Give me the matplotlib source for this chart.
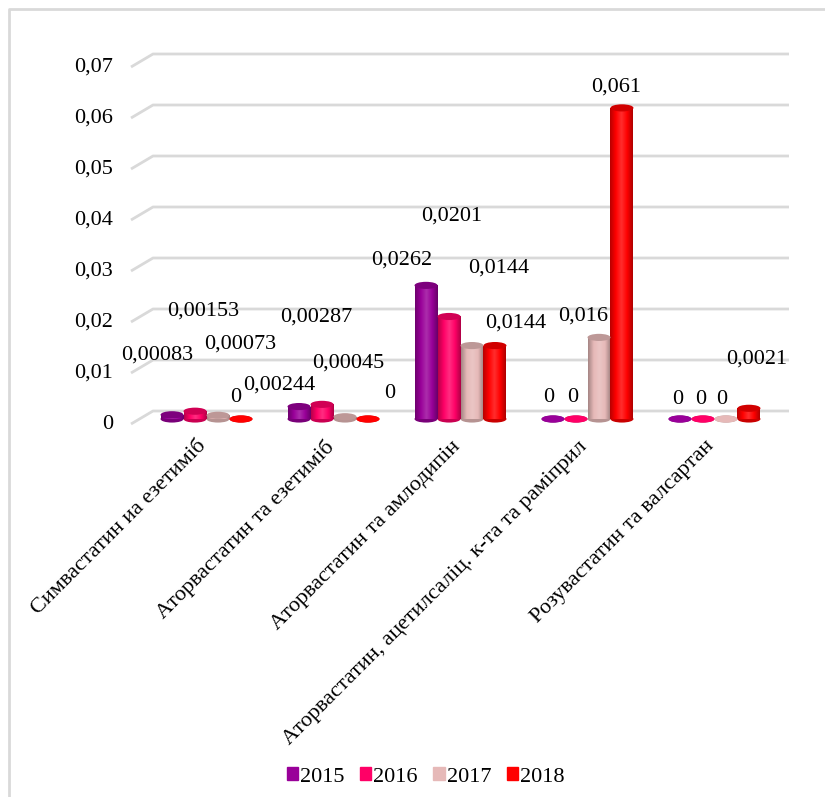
import numpy as np
import matplotlib.pyplot as plt
from matplotlib.patches import Ellipse, Patch
from matplotlib.colors import LinearSegmentedColormap, to_rgb
from matplotlib.lines import Line2D
from matplotlib.transforms import ScaledTranslation

plt.rcParams['font.family'] = ['Liberation Serif', 'DejaVu Serif']

categories = ['Симвастатин иа езетиміб', 'Аторвастатин та езетиміб',
              'Аторвастатин та амлодипін',
              'Аторвастатин, ацетилсаліц. к-та та раміприл',
              'Розувастатин та валсартан']
years = ['2015', '2016', '2017', '2018']
v2015 = [0.00083, 0.00244, 0.0262, 0, 0]
v2016 = [0.00153, 0.00287, 0.0201, 0, 0]
v2017 = [0.00073, 0.00045, 0.0144, 0.016, 0]
v2018 = [0, 0, 0.0144, 0.061, 0.0021]
yticks = [0, 0.01, 0.02, 0.03, 0.04, 0.05, 0.06, 0.07]

series = [v2015, v2016, v2017, v2018]
colors = ['#990099', '#ff0066', '#e6b9b8', '#ff0000']
# label offsets in pixels (dx, dy) - excel puts them all over the place
offs = [[(-15, 60), (-20, 22), (-24, 25), (-4, 21), (-2, 20)],
        [(8, 100), (-6, 87), (3, 100), (-3, 21), (-2, 20)],
        [(22, 71), (3, 54), (27, 78), (-16, 21), (-4, 20)],
        [(-5, 22), (22, 26), (21, 23), (-6, 21), (8, 49)]]

W, H = 825, 797
fig = plt.figure(figsize=(W/100, H/100), dpi=100)
ax = fig.add_axes([100/W, (H-430)/H, 700/W, 390/H])
for s in ax.spines.values():
    s.set_visible(False)

# pseudo 3d grid
gc = '#d9d9d9'
xb, xf, xe = (153-206.5)/127, (131-206.5)/127, (789-206.5)/127
db, df = 8/5100, -5/5100
for t in yticks:
    ax.plot([xf, xb, xe], [t+df, t+db, t+db], color=gc, lw=2, zorder=0,
            solid_capstyle='butt')
    ax.text((113-206.5)/127, t-0.001, ('%g' % t).replace('.', ','),
            ha='right', va='center', fontsize=16)
ax.set_yticks([])

bw = 0.181
eh = 0.0014
for k, vals in enumerate(series):
    base = np.array(to_rgb(colors[k]))
    dark = base*0.72
    light = base + (1-base)*0.18
    cmap = LinearSegmentedColormap.from_list('c%d' % k,
                                             [dark, base, light, base, dark*0.95])
    top = base*0.82
    for i, v in enumerate(vals):
        x = i + (k-1.5)*bw
        ax.add_patch(Ellipse((x, 0), bw, eh, facecolor=dark*1.1, edgecolor='none', zorder=2))
        if v > 0:
            b = ax.bar(x, v, bw, color=colors[k], zorder=3, linewidth=0)[0]
            im = ax.imshow(np.linspace(0, 1, 64).reshape(1, -1), cmap=cmap, aspect='auto',
                           extent=[x-bw/2, x+bw/2, 0, v], zorder=3, interpolation='bilinear')
            im.set_clip_path(b)
            ax.add_patch(Ellipse((x, v), bw, eh, facecolor=top, edgecolor='none', zorder=4))
        else:
            ax.add_patch(Ellipse((x, 0), bw, eh, facecolor=colors[k], edgecolor='none', zorder=4))
        lab = ('%g' % v).replace('.', ',')
        ax.annotate(lab, (x, v), xytext=offs[k][i], textcoords='offset pixels',
                    ha='center', va='center', fontsize=16, zorder=5)

ax.set_xlim((100-206.5)/127, (800-206.5)/127)
ax.set_ylim(-(430-419)/5100, (419-40)/5100)
ax.set_xticks(range(len(categories)))
ax.set_xticklabels(categories, rotation=45, ha='right', rotation_mode='anchor',
                   fontsize=16)
ax.tick_params(axis='x', length=0, pad=5)
shift = ScaledTranslation(-10/100, 0, fig.dpi_scale_trans)
for lbl in ax.get_xticklabels():
    lbl.set_transform(lbl.get_transform() + shift)

handles = [Patch(color=c, label=y) for c, y in zip(colors, years)]
leg = fig.legend(handles=handles, loc='center', bbox_to_anchor=(0.516, 0.025), ncol=4,
                 frameon=False, fontsize=16, handlelength=0.5, handleheight=0.5,
                 handletextpad=0.1, columnspacing=0.7)
for t in leg.get_texts():
    t.set_fontfamily('Liberation Serif')

# chart area border
fig.add_artist(Line2D([9/W, 9/W, 1], [0, 1-9/H, 1-9/H], color=gc, lw=2,
                      transform=fig.transFigure))

fig.savefig('out.png', dpi=100)
